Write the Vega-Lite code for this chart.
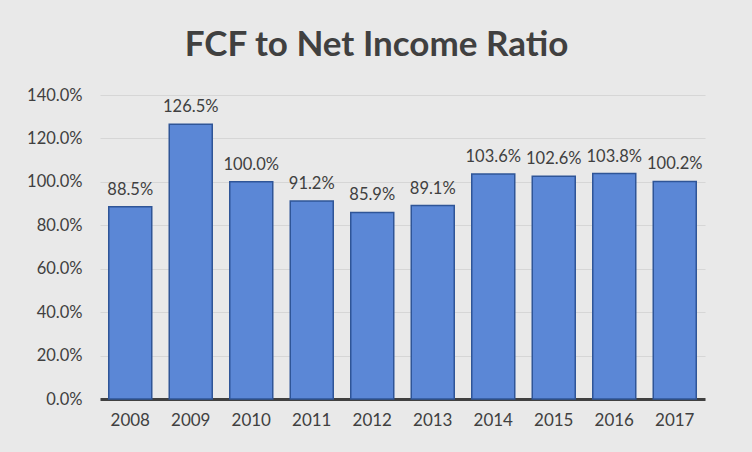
{
  "$schema": "https://vega.github.io/schema/vega-lite/v6.json",
  "width": 605,
  "height": 304,
  "autosize": {"type": "none"},
  "padding": {"left": 100, "top": 95, "right": 47, "bottom": 53},
  "background": "#e9e9e9",
  "title": {
    "text": "FCF to Net Income Ratio",
    "font": "Lato",
    "fontSize": 35,
    "fontWeight": "bold",
    "color": "#404040",
    "anchor": "middle",
    "dx": -26,
    "offset": 24
  },
  "data": {
    "values": [
      {"year": "2008", "ratio": 0.885},
      {"year": "2009", "ratio": 1.265},
      {"year": "2010", "ratio": 1.000},
      {"year": "2011", "ratio": 0.912},
      {"year": "2012", "ratio": 0.859},
      {"year": "2013", "ratio": 0.891},
      {"year": "2014", "ratio": 1.036},
      {"year": "2015", "ratio": 1.026},
      {"year": "2016", "ratio": 1.038},
      {"year": "2017", "ratio": 1.002}
    ]
  },
  "encoding": {
    "x": {
      "field": "year",
      "type": "nominal",
      "scale": {"paddingInner": 0.3, "paddingOuter": 0.15},
      "axis": {
        "title": null,
        "labelAngle": 0,
        "labelFont": "Lato",
        "labelFontSize": 17,
        "labelColor": "#404040",
        "labelPadding": 13,
        "ticks": false,
        "domainColor": "#404040",
        "domainWidth": 3
      }
    },
    "y": {
      "field": "ratio",
      "type": "quantitative",
      "scale": {"domain": [0, 1.4]},
      "axis": {
        "title": null,
        "format": ".1%",
        "values": [0, 0.2, 0.4, 0.6, 0.8, 1.0, 1.2, 1.4],
        "labelFont": "Lato",
        "labelFontSize": 16.5,
        "labelColor": "#404040",
        "labelPadding": 18,
        "ticks": false,
        "domain": false,
        "gridColor": "#d6d6d6",
        "gridWidth": 1.2
      }
    }
  },
  "layer": [
    {
      "mark": {
        "type": "bar",
        "size": 43,
        "fill": "#5b87d6",
        "stroke": "#2f5597",
        "strokeWidth": 1.5
      }
    },
    {
      "mark": {
        "type": "text",
        "dy": -17,
        "font": "Lato",
        "fontSize": 16.5,
        "color": "#404040"
      },
      "encoding": {
        "text": {"field": "ratio", "type": "quantitative", "format": ".1%"}
      }
    }
  ],
  "config": {"view": {"stroke": null}}
}
